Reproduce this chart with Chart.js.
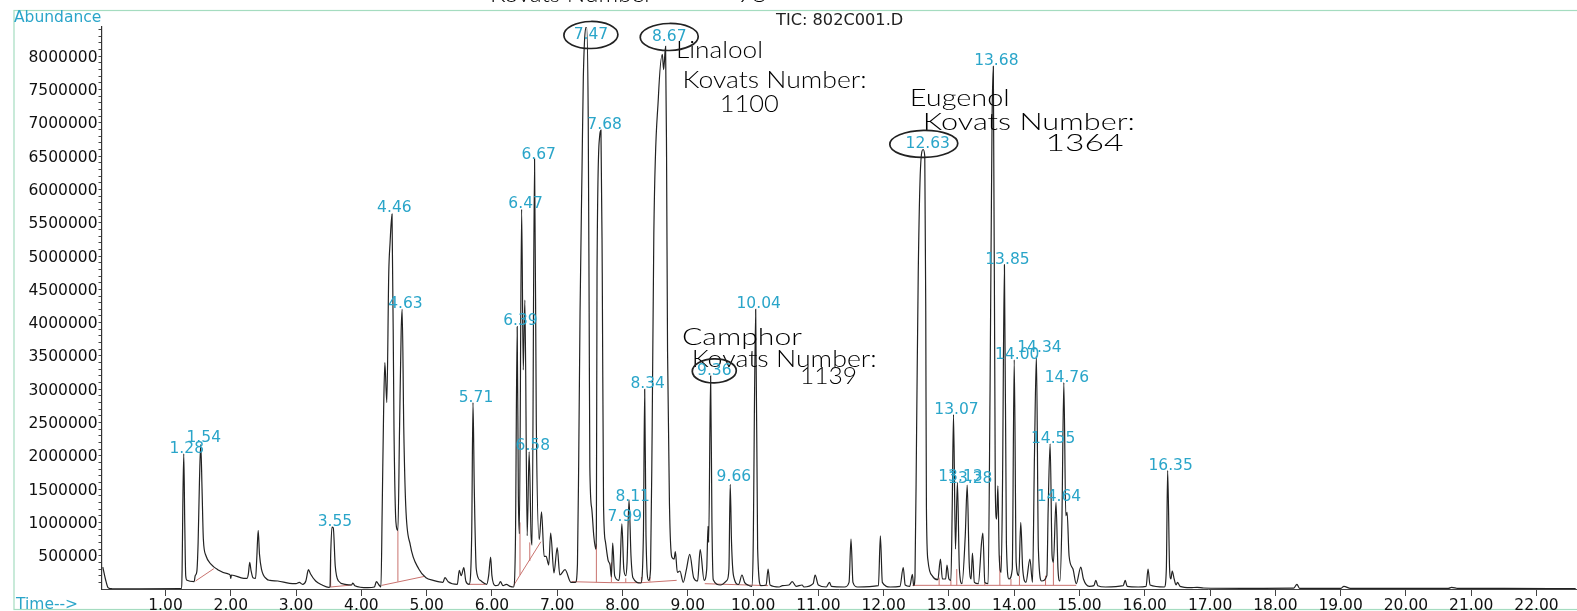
<!DOCTYPE html>
<html><head><meta charset="utf-8">
<style>html,body{margin:0;padding:0;background:#fff;overflow:hidden}#w{width:1577px;height:611px;position:relative}</style>
<script src="https://cdn.jsdelivr.net/npm/chart.js@4/dist/chart.umd.min.js"></script>
</head><body><div id="w"><canvas id="c" width="1577" height="611"></canvas></div>
<script>
const xTickLabels=["1.00","2.00","3.00","4.00","5.00","6.00","7.00","8.00","9.00","10.00","11.00","12.00","13.00","14.00","15.00","16.00","17.00","18.00","19.00","20.00","21.00","22.00"];
const yTickLabels=["500000","1000000","1500000","2000000","2500000","3000000","3500000","4000000","4500000","5000000","5500000","6000000","6500000","7000000","7500000","8000000"];
// [minutes, abundance in thousands]
const tracePairs=[[0.04,330],[0.08,150],[0.12,20],[0.16,6],[0.2,2],[0.6,3],[1.24,5],[1.255,300],[1.265,1200],[1.28,2030],[1.295,1000],[1.31,200],[1.33,130],[1.44,110],[1.455,200],[1.48,260],[1.5,700],[1.52,1600],[1.54,2170],[1.56,1500],[1.58,750],[1.62,500],[1.7,370],[1.8,290],[1.95,230],[1.99,210],[2.0,160],[2.01,210],[2.2,160],[2.25,160],[2.27,230],[2.29,400],[2.31,280],[2.34,170],[2.38,160],[2.4,500],[2.42,880],[2.44,520],[2.47,300],[2.55,150],[2.6,130],[2.72,120],[2.9,85],[3.0,80],[3.05,100],[3.1,70],[3.15,120],[3.19,290],[3.22,230],[3.3,120],[3.4,60],[3.5,25],[3.52,30],[3.53,500],[3.55,930],[3.57,920],[3.6,350],[3.65,120],[3.75,70],[3.85,60],[3.87,90],[3.9,50],[4.1,20],[4.2,30],[4.23,110],[4.27,60],[4.3,30],[4.32,1250],[4.34,2600],[4.36,3400],[4.39,2800],[4.42,4750],[4.44,5200],[4.47,5630],[4.5,2400],[4.53,1000],[4.56,880],[4.585,2400],[4.61,3870],[4.625,4200],[4.65,2400],[4.68,1250],[4.75,660],[4.88,300],[4.99,170],[5.1,130],[5.25,100],[5.28,170],[5.33,110],[5.47,70],[5.5,280],[5.53,200],[5.57,320],[5.6,120],[5.65,70],[5.69,800],[5.71,2800],[5.73,1500],[5.76,300],[5.82,130],[5.92,70],[5.95,200],[5.98,480],[6.0,200],[6.05,50],[6.1,60],[6.13,110],[6.17,50],[6.22,70],[6.28,40],[6.33,30],[6.36,700],[6.387,3940],[6.405,1400],[6.42,830],[6.455,5700],[6.48,3290],[6.505,4340],[6.54,800],[6.57,2060],[6.6,800],[6.615,660],[6.653,6460],[6.68,2470],[6.725,740],[6.76,1160],[6.8,490],[6.83,490],[6.87,360],[6.9,840],[6.95,240],[7.0,620],[7.04,210],[7.12,290],[7.21,100],[7.28,100],[7.31,370],[7.33,2000],[7.35,4170],[7.38,6300],[7.4,7680],[7.45,8450],[7.475,7090],[7.49,4000],[7.5,1830],[7.53,1200],[7.56,800],[7.59,600],[7.6,900],[7.61,4750],[7.65,6800],[7.67,6890],[7.69,4750],[7.71,1240],[7.74,700],[7.78,430],[7.81,360],[7.83,180],[7.85,690],[7.88,200],[7.94,130],[7.96,250],[7.99,980],[8.02,300],[8.05,200],[8.07,400],[8.1,1340],[8.13,500],[8.16,170],[8.28,90],[8.32,800],[8.34,3000],[8.36,800],[8.4,130],[8.43,300],[8.455,2470],[8.48,5340],[8.55,7390],[8.61,8030],[8.63,7800],[8.66,8150],[8.675,6500],[8.69,3580],[8.72,1240],[8.755,480],[8.79,450],[8.81,560],[8.84,250],[8.88,270],[8.93,100],[8.98,300],[9.03,520],[9.09,170],[9.15,120],[9.19,590],[9.25,130],[9.29,300],[9.31,940],[9.32,700],[9.35,3200],[9.37,1000],[9.39,140],[9.5,60],[9.6,130],[9.63,300],[9.65,1570],[9.67,700],[9.7,200],[9.78,70],[9.83,210],[9.87,100],[9.92,60],[9.98,40],[10.0,500],[10.04,4200],[10.07,600],[10.12,50],[10.2,60],[10.23,300],[10.26,60],[10.4,30],[10.45,50],[10.55,60],[10.6,110],[10.66,40],[10.75,60],[10.78,30],[10.92,80],[10.95,210],[11.0,60],[11.12,30],[11.17,100],[11.2,40],[11.4,30],[11.47,100],[11.5,750],[11.53,100],[11.6,30],[11.92,50],[11.95,800],[11.98,100],[12.1,30],[12.25,40],[12.3,320],[12.33,60],[12.4,40],[12.44,220],[12.46,50],[12.48,190],[12.505,2410],[12.53,4750],[12.565,6330],[12.605,6600],[12.63,6500],[12.645,4170],[12.655,1240],[12.68,420],[12.75,190],[12.83,140],[12.87,450],[12.9,150],[12.95,150],[12.97,360],[13.0,150],[13.03,130],[13.05,1200],[13.07,2620],[13.1,600],[13.13,1600],[13.16,300],[13.2,80],[13.25,800],[13.28,1560],[13.31,400],[13.34,150],[13.36,540],[13.39,100],[13.45,80],[13.5,700],[13.52,840],[13.55,100],[13.6,80],[13.63,3000],[13.66,7000],[13.68,7850],[13.71,1500],[13.73,1050],[13.75,1550],[13.77,500],[13.8,250],[13.82,1500],[13.85,4870],[13.88,700],[13.92,150],[13.97,300],[14.0,3440],[14.03,400],[14.07,200],[14.1,1000],[14.13,300],[14.18,100],[14.24,450],[14.28,100],[14.31,2000],[14.34,3500],[14.37,600],[14.42,120],[14.5,200],[14.52,1200],[14.55,2180],[14.58,500],[14.6,400],[14.64,1300],[14.67,300],[14.7,120],[14.73,1000],[14.76,3100],[14.79,1100],[14.81,1150],[14.84,500],[14.9,300],[14.95,80],[15.02,330],[15.06,150],[15.15,40],[15.22,50],[15.25,130],[15.28,50],[15.4,30],[15.67,50],[15.7,130],[15.73,40],[15.9,30],[16.02,40],[16.05,300],[16.08,60],[16.3,30],[16.33,300],[16.35,1780],[16.38,300],[16.4,150],[16.42,270],[16.45,150],[16.48,60],[16.5,100],[16.54,40],[16.7,20],[16.8,25],[16.9,15],[17.5,10],[18.28,12],[18.33,70],[18.37,10],[19.0,8],[19.05,40],[19.15,10],[20.0,8],[20.65,10],[20.7,25],[20.8,8],[21.5,10],[22.6,5]];
// [from minutes, from abundance, to minutes, to abundance] in thousands
const baselineSegments=[[1.46,120,1.74,305],[3.53,30,3.85,60],[3.53,30,3.53,450],[4.31,54,4.96,188],[4.56,110,4.56,880],[5.65,70,5.9,70],[6.33,50,6.75,710],[6.43,210,6.43,1000],[6.58,420,6.58,700],[7.22,110,7.83,95],[7.83,95,8.29,95],[8.29,95,8.83,130],[7.6,100,7.6,680],[7.83,95,7.83,400],[8.05,95,8.05,160],[8.29,95,8.29,180],[8.42,110,8.42,180],[9.26,80,10.23,50],[12.44,55,14.95,55],[12.85,55,12.85,170],[13.03,55,13.03,130],[13.12,55,13.12,300],[13.55,55,13.55,100],[13.78,55,13.78,500],[13.95,55,13.95,150],[14.08,55,14.08,200],[14.48,55,14.48,200],[14.6,55,14.6,400]];
const peakLabels=["1.28","1.54","3.55","4.46","4.63","5.71","6.39","6.47","6.58","6.67","7.47","7.68","7.99","8.11","8.34","8.67","9.36","9.66","10.04","12.63","13.07","13.13","13.28","13.68","13.85","14.00","14.34","14.55","14.64","14.76","16.35"];
const peakLabelAbundK=[2030,2190,930,5640,4200,2800,3950,5700,2080,6450,8245,6900,1000,1300,3000,8215,3200,1600,4200,6610,2620,1600,1580,7850,4870,3440,3550,2180,1300,3100,1780];
const notes=["Linalool","Kovats Number:","1100","Camphor","Kovats Number:","1139","Eugenol","Kovats Number:","1364","Kovats Number","98"];
const noteTimes=[8.82,8.92,9.49,8.91,9.06,10.72,12.4,12.6,14.48,5.97,9.75];
const noteAbundK=[8093,7640,7280,3775,3443,3200,7368,7006,6690,8930,8930];
const noteWidths=[87,184,59,120,185,57,100,212,78,163,30];
const circledLabels=["7.47","8.67","9.36","12.63"];

const CYAN='#2aa5c9', FONT='"DejaVu Sans"';
const pt=(x,k)=>({x,y:k*1000});
const traceData=tracePairs.map(p=>pt(p[0],p[1]));
const baselineData=[];
baselineSegments.forEach(s=>{baselineData.push(pt(s[0],s[1]),pt(s[2],s[3]),{x:s[2],y:null});});
const topLayer={id:'topLayer',beforeDraw(ch){
  const c=ch.ctx;c.save();c.fillStyle='#fff';c.fillRect(0,0,1577,611);
  c.strokeStyle='#a5dcc0';c.lineWidth=1.2;c.strokeRect(14,10.5,1600,599);c.restore();
},afterDatasetsDraw(ch){
  const c=ch.ctx,sx=ch.scales.x,sy=ch.scales.y;
  const P=(t,k)=>[sx.getPixelForValue(t),sy.getPixelForValue(k*1000)];
  c.save();c.textBaseline='middle';
  c.fillStyle='#000';c.textAlign='left';c.font='300 24px Lato';
  notes.forEach((n,i)=>{const [x,y]=P(noteTimes[i],noteAbundK[i]);
    c.save();c.translate(x,y);c.scale(noteWidths[i]/c.measureText(n).width,1);c.fillText(n,0,0);c.restore();});
  c.strokeStyle='#222';c.lineWidth=1.7;
  circledLabels.forEach(l=>{const i=peakLabels.indexOf(l);const [x,y]=P(parseFloat(l),peakLabelAbundK[i]);
    const rx=l==='12.63'?34:(l==='9.36'?22:(l==='8.67'?29:27));
    c.beginPath();c.ellipse(x+(l==='12.63'?-1:3),y-5,rx,l==='9.36'?12:13.5,-0.02,0,Math.PI*2);c.stroke();});
  c.fillStyle=CYAN;c.textAlign='center';c.font='15.5px '+FONT;
  peakLabels.forEach((l,i)=>{const [x,y]=P(parseFloat(l),peakLabelAbundK[i]);c.fillText(l,x+3,y-5);});
  c.textAlign='left';
  c.fillText('Abundance',14,18);c.fillText('Time-->',16,605);
  c.fillStyle='#222';c.font='16.2px '+FONT;c.fillText('TIC: 802C001.D',776,21);
  c.restore();
}};
new Chart(document.getElementById('c'),{type:'scatter',
 data:{datasets:[
  {data:baselineData,showLine:true,spanGaps:false,borderColor:'#c9736f',borderWidth:1,pointRadius:0,order:2},
  {data:traceData,showLine:true,cubicInterpolationMode:'monotone',borderColor:'#222',borderWidth:1.2,pointRadius:0,order:1}
 ]},
 plugins:[topLayer],
 options:{responsive:false,animation:false,layout:{padding:{top:27,left:0,right:0,bottom:0}},
  plugins:{legend:{display:false},tooltip:{enabled:false}},
  scales:{
   x:{type:'linear',position:'bottom',min:0.02,max:22.62,
     afterBuildTicks(a){a.ticks=xTickLabels.map(l=>({value:parseFloat(l)}));},
     afterFit(a){a.height=22;},
     border:{color:'#444',width:1},
     grid:{drawOnChartArea:false,tickLength:7,color:'#444'},
     ticks:{autoSkip:false,maxRotation:0,padding:1,color:'#111',font:{family:FONT,size:15.5},
       callback:v=>xTickLabels.find(l=>parseFloat(l)===v)||''}},
   xMinor:{type:'linear',position:'bottom',min:0.02,max:22.62,
     afterBuildTicks(a){const t=[];for(let i=1;i<=113;i++)t.push({value:i/5});a.ticks=t;},
     afterFit(a){a.height=0;},
     border:{display:false},
     grid:{drawOnChartArea:false,tickLength:4,color:'#555'},
     ticks:{display:false}},
   y:{type:'linear',position:'left',min:0,max:8440000,
     afterBuildTicks(a){const t=[];for(let i=1;i<=84;i++)t.push({value:i*100000});a.ticks=t;},
     afterFit(a){a.width=101.5;},
     border:{color:'#333',width:1.2},
     grid:{drawOnChartArea:false,tickLength:3,color:'#444'},
     ticks:{autoSkip:false,padding:1,labelOffset:1.5,color:'#111',font:{family:FONT,size:15.5},
       callback:v=>yTickLabels.find(l=>parseInt(l)===v)||''}}
  }}});
</script></body></html>
